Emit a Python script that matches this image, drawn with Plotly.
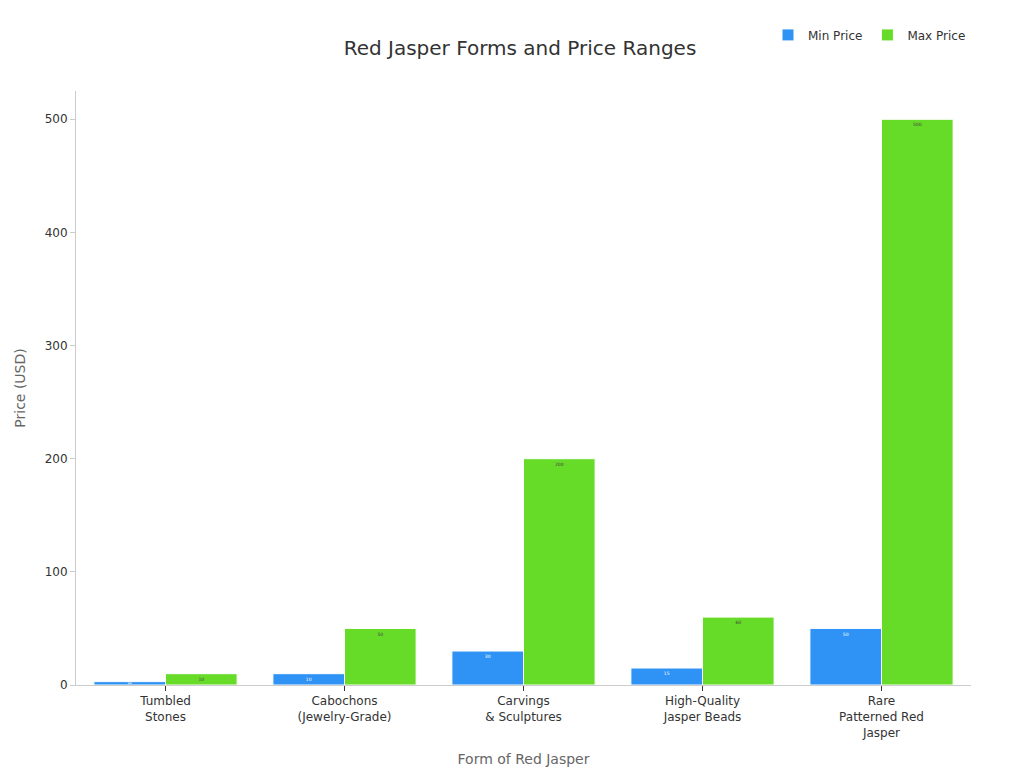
import plotly.graph_objects as go

forms = ["Tumbled<br>Stones", "Cabochons<br>(Jewelry-Grade)", "Carvings<br>& Sculptures",
         "High-Quality<br>Jasper Beads", "Rare<br>Patterned Red<br>Jasper"]
min_price = [3, 10, 30, 15, 50]
max_price = [10, 50, 200, 60, 500]

fig = go.Figure()
fig.add_trace(go.Bar(name="Min Price", x=forms, y=min_price, text=min_price,
                     textposition="inside", insidetextanchor="end",
                     marker=dict(color="#2E93F5", line=dict(color="white", width=1))))
fig.add_trace(go.Bar(name="Max Price", x=forms, y=max_price, text=max_price,
                     textposition="inside", insidetextanchor="end",
                     marker=dict(color="#66DB28", line=dict(color="white", width=1))))

fig.update_layout(
    width=1024, height=768,
    title=dict(text="Red Jasper Forms and Price Ranges", x=0.5, y=0.957,
               font=dict(size=20, color="#333")),
    font=dict(family="DejaVu Sans", size=12, color="#333"),
    barmode="group", bargap=0.2, bargroupgap=0,
    plot_bgcolor="white", paper_bgcolor="white",
    margin=dict(l=68, r=61, t=80, b=91),
    legend=dict(orientation="h", x=1, xanchor="right", y=1.07, yanchor="bottom",
                font=dict(size=12)),
    uniformtext=dict(minsize=4, mode="show"),
)
fig.update_xaxes(title=dict(text="Form of Red Jasper", font=dict(size=14, color="#666")),
                 showline=True, linecolor="#ccc", ticks="outside", ticklen=5, tickcolor="#333")
fig.update_yaxes(title=dict(text="Price (USD)", font=dict(size=14, color="#666")),
                 showgrid=False, showline=True, linecolor="#ccc", ticks="outside",
                 ticklen=5, tickcolor="#ccc", range=[0, 525], dtick=100, zeroline=False)

fig.write_html("out.html")
